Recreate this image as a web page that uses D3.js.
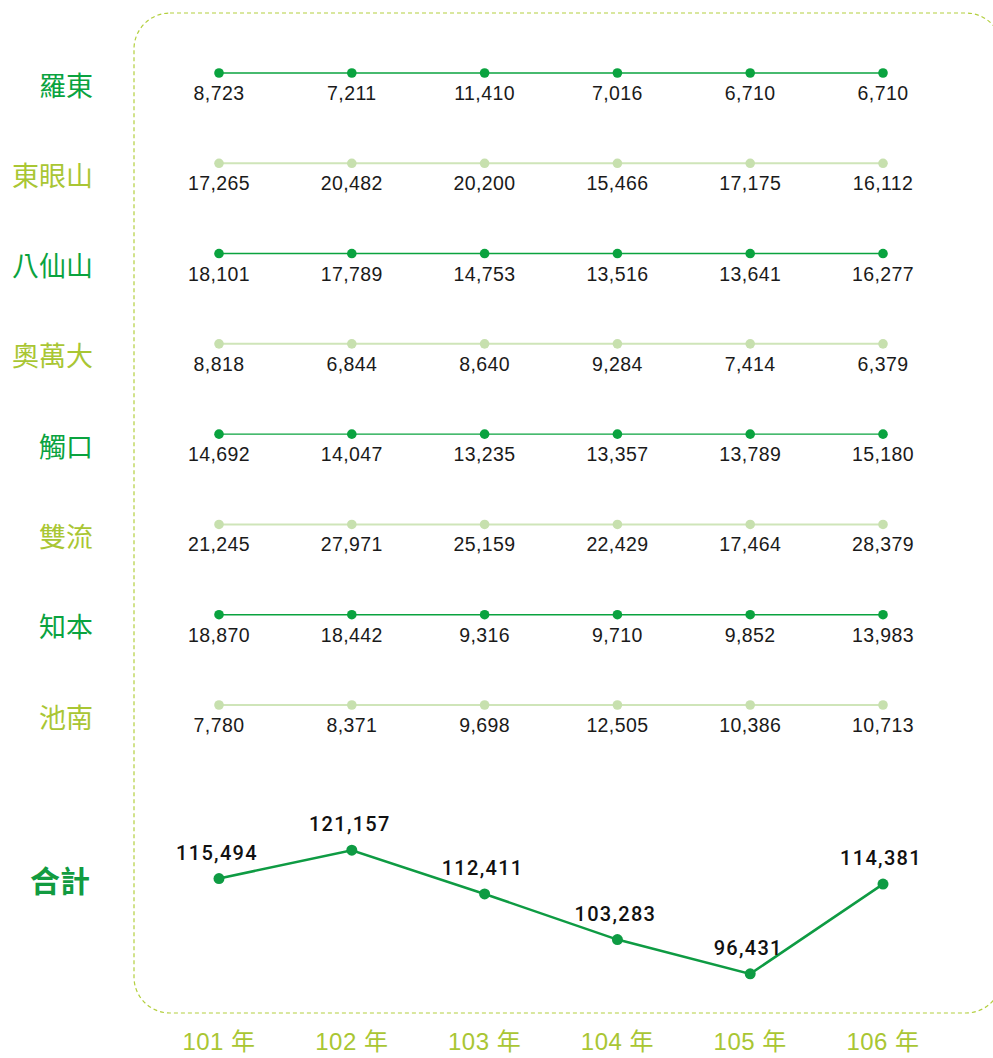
<!DOCTYPE html>
<html lang="zh-Hant">
<head>
<meta charset="UTF-8">
<title>各站歷年數據</title>
<script src="https://d3js.org/d3.v7.min.js"></script>
<style>
  body { margin: 0; background: #fff; }
  svg { display: block; }
</style>
</head>
<body>
<div id="chart"></div>
<script>
// data
const years = ["101 年", "102 年", "103 年", "104 年", "105 年", "106 年"];
const stations = ["羅東", "東眼山", "八仙山", "奧萬大", "觸口", "雙流", "知本", "池南"];
const luodong   = [8723, 7211, 11410, 7016, 6710, 6710];
const dongyan   = [17265, 20482, 20200, 15466, 17175, 16112];
const baxian    = [18101, 17789, 14753, 13516, 13641, 16277];
const aowanda   = [8818, 6844, 8640, 9284, 7414, 6379];
const chukou    = [14692, 14047, 13235, 13357, 13789, 15180];
const shuangliu = [21245, 27971, 25159, 22429, 17464, 28379];
const zhiben    = [18870, 18442, 9316, 9710, 9852, 13983];
const chinan    = [7780, 8371, 9698, 12505, 10386, 10713];
const totals    = [115494, 121157, 112411, 103283, 96431, 114381];
const totalLabel = "合計";

const rows = [luodong, dongyan, baxian, aowanda, chukou, shuangliu, zhiben, chinan];

const width = 993, height = 1058;
const dark = "#0aa33f", lime = "#a9c633";
const lightLine = "#cfe5b9", lightDot = "#c7e0ae";
const fmt = d3.format(",");

const svg = d3.select("#chart").append("svg")
    .attr("width", width)
    .attr("height", height);

// dashed rounded frame (runs past the right edge)
svg.append("rect")
    .attr("x", 134).attr("y", 13)
    .attr("width", 868).attr("height", 1000)
    .attr("rx", 36).attr("ry", 36)
    .attr("fill", "none")
    .attr("stroke", "#b3cf3e")
    .attr("stroke-width", 1.2)
    .attr("stroke-dasharray", "4,3");

const x = d3.scalePoint().domain(years).range([219, 883]);
const y = d3.scalePoint().domain(stations).range([73, 705]);
const yTotal = d3.scaleLinear().domain([90000, 125000]).range([1006, 831]);

// station rows
stations.forEach((name, i) => {
    const vals = rows[i];
    const isDark = i % 2 === 0;
    const cy = y(name);
    const g = svg.append("g");

    g.append("text")
        .attr("x", 93).attr("y", cy + 11)
        .attr("text-anchor", "end")
        .attr("dominant-baseline", "central")
        .attr("font-family", "'Noto Sans CJK TC', sans-serif")
        .attr("font-size", 27)
        .attr("fill", isDark ? dark : lime)
        .text(name);

    g.append("line")
        .attr("x1", x(years[0])).attr("x2", x(years[years.length - 1]))
        .attr("y1", cy).attr("y2", cy)
        .attr("stroke", isDark ? dark : lightLine)
        .attr("stroke-width", isDark ? 1.4 : 2);

    g.selectAll("circle")
        .data(vals)
        .enter().append("circle")
        .attr("cx", (d, j) => x(years[j]))
        .attr("cy", cy)
        .attr("r", 4.8)
        .attr("fill", isDark ? dark : lightDot);

    g.selectAll("text.val")
        .data(vals)
        .enter().append("text")
        .attr("class", "val")
        .attr("x", (d, j) => x(years[j]))
        .attr("y", cy + 27)
        .attr("text-anchor", "middle")
        .attr("font-family", "'Liberation Sans', Arial, sans-serif")
        .attr("font-size", 19.5)
        .attr("letter-spacing", 0.4)
        .attr("fill", "#1a1a1a")
        .text(d => fmt(d));
});

// totals
svg.append("text")
    .attr("x", 90).attr("y", 879)
    .attr("text-anchor", "end")
    .attr("dominant-baseline", "central")
    .attr("font-family", "'Noto Sans CJK TC', sans-serif")
    .attr("font-size", 30)
    .attr("font-weight", "bold")
    .attr("fill", "#129b40")
    .text(totalLabel);

const line = d3.line()
    .x((d, j) => x(years[j]))
    .y(d => yTotal(d));

svg.append("path")
    .datum(totals)
    .attr("d", line)
    .attr("fill", "none")
    .attr("stroke", "#0e9b43")
    .attr("stroke-width", 2.5);

svg.selectAll("circle.total")
    .data(totals)
    .enter().append("circle")
    .attr("class", "total")
    .attr("cx", (d, j) => x(years[j]))
    .attr("cy", d => yTotal(d))
    .attr("r", 5.5)
    .attr("fill", "#0e9b43");

svg.selectAll("text.total")
    .data(totals)
    .enter().append("text")
    .attr("class", "total")
    .attr("x", (d, j) => x(years[j]) - 2)
    .attr("y", d => yTotal(d) - 19)
    .attr("text-anchor", "middle")
    .attr("font-family", "Roboto, 'Liberation Sans', sans-serif")
    .attr("font-size", 20)
    .attr("font-weight", 500)
    .attr("letter-spacing", 1.3)
    .attr("fill", "#111")
    .text(d => fmt(d));

// year labels
svg.selectAll("text.year")
    .data(years)
    .enter().append("text")
    .attr("class", "year")
    .attr("x", d => x(d))
    .attr("y", 1050)
    .attr("text-anchor", "middle")
    .attr("font-family", "'Liberation Sans', 'Noto Sans CJK TC', sans-serif")
    .attr("font-size", 24)
    .attr("letter-spacing", 0.5)
    .attr("fill", lime)
    .text(d => d);
</script>
</body>
</html>
